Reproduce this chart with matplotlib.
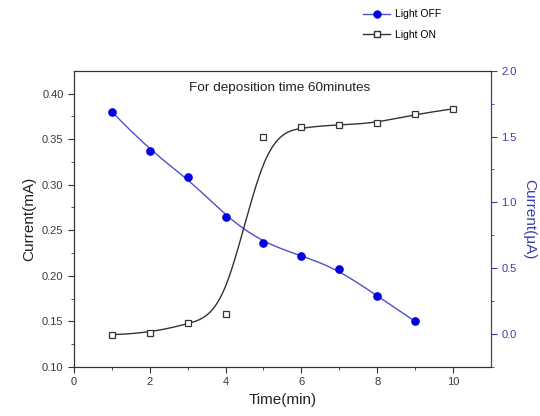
import matplotlib
matplotlib.use('Agg')
import matplotlib.pyplot as plt
import numpy as np

plt.rcParams['font.family'] = ['Liberation Sans', 'DejaVu Sans']

# data
time_off = [1, 2, 3, 4, 5, 6, 7, 8, 9]
current_off = [0.380, 0.337, 0.308, 0.265, 0.236, 0.222, 0.207, 0.178, 0.150]   # mA
time_on = [1, 2, 3, 4, 5, 6, 7, 8, 9, 10]
current_on = [-0.005, 0.005, 0.08, 0.15, 1.50, 1.57, 1.59, 1.60, 1.67, 1.71]   # uA

blue = '#0000e0'
blue_line = '#5050c8'
axis_blue = '#3c3cb0'


def bspline(xs, ys, num=400, k=3):
    # clamped cubic B-spline with the data points as control points
    P = np.column_stack([xs, ys]).astype(float)
    n = len(P)
    knots = np.concatenate([np.zeros(k + 1), np.arange(1, n - k), np.full(k + 1, n - k)])
    t = np.linspace(0, n - k - 1e-9, num)
    N = np.zeros((num, len(knots) - 1))
    for i in range(len(knots) - 1):
        N[:, i] = (knots[i] <= t) & (t < knots[i + 1])
    for d in range(1, k + 1):
        new = np.zeros((num, len(knots) - 1 - d))
        for i in range(len(knots) - 1 - d):
            a = knots[i + d] - knots[i]
            b = knots[i + d + 1] - knots[i + 1]
            if a > 0:
                new[:, i] += (t - knots[i]) / a * N[:, i]
            if b > 0:
                new[:, i] += (knots[i + d + 1] - t) / b * N[:, i + 1]
        N = new
    c = N @ P
    return c[:, 0], c[:, 1]


fig = plt.figure(figsize=(5.4, 4.16), dpi=100)
ax = fig.add_axes([0.137, 0.118, 0.772, 0.712])
ax2 = ax.twinx()

bx, by = bspline(time_off, current_off)
ax.plot(bx, by, color=blue_line, lw=1.0)
ax.plot(time_off, current_off, 'o', color=blue, ms=5.2, mec=blue)

sx, sy = bspline(time_on, current_on)
ax2.plot(sx, sy, color='#333333', lw=1.0)
ax2.plot(time_on, current_on, 's', mfc='white', mec='#333333', ms=4.3, mew=0.9)

ax.set_xlim(0, 11)
ax.set_ylim(0.10, 0.425)
ax2.set_ylim(-0.25, 2.0)

ax.set_xticks(np.arange(0, 11, 2))
ax.set_xticks(np.arange(1, 11, 2), minor=True)
ax.set_yticks(np.arange(0.10, 0.41, 0.05))
ax.set_yticks(np.arange(0.125, 0.42, 0.05), minor=True)
ax.yaxis.set_major_formatter(matplotlib.ticker.FormatStrFormatter('%.2f'))
ax2.set_yticks(np.arange(0, 2.01, 0.5))
ax2.set_yticks(np.arange(-0.25, 2.0, 0.5), minor=True)
ax2.yaxis.set_major_formatter(matplotlib.ticker.FormatStrFormatter('%.1f'))

ax.tick_params(which='both', direction='out', labelsize=8, colors='#333333', labelcolor='#3a3a3a')
ax.tick_params(which='major', length=4)
ax.tick_params(which='minor', length=2.5)
ax2.tick_params(which='both', direction='out', labelsize=8, colors=axis_blue)
ax2.tick_params(which='major', length=4)
ax2.tick_params(which='minor', length=2.5)

for s in ['left', 'bottom', 'top']:
    ax.spines[s].set_color('#333333')
    ax2.spines[s].set_color('#333333')
ax2.spines['right'].set_color(axis_blue)

ax.set_xlabel('Time(min)', fontsize=11, color='#222222')
ax.set_ylabel('Current(mA)', fontsize=11, color='#222222')
ax2.set_ylabel('Current(\u03bcA)', fontsize=11, color=axis_blue, rotation=270, labelpad=14)

ax.text(0.494, 0.94, 'For deposition time 60minutes', transform=ax.transAxes,
        ha='center', va='center', fontsize=9.7, color='#222222')

l1b, = ax.plot([], [], '-o', color=blue_line, mfc=blue, mec=blue, ms=5, lw=1.0)
l2b, = ax.plot([], [], '-s', color='#333333', mfc='white', mec='#333333', ms=4.3, lw=1.0)
fig.legend([l1b, l2b], ['Light OFF', 'Light ON'], loc='upper left',
           bbox_to_anchor=(0.655, 1.0), frameon=False, fontsize=7.5,
           handlelength=2.6, labelspacing=1.0, handletextpad=0.5)

fig.savefig('out.png', dpi=100)
